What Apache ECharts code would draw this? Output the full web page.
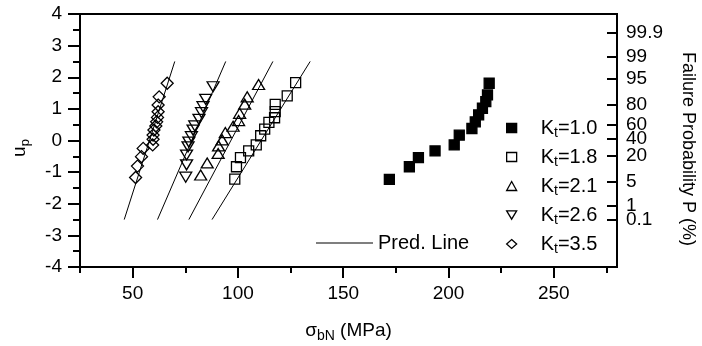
<!DOCTYPE html>
<html><head><meta charset="utf-8">
<script src="https://cdn.jsdelivr.net/npm/echarts@6/dist/echarts.min.js"></script>
<style>html,body{margin:0;padding:0;background:#fff}#c{width:702px;height:346px}</style>
</head><body><div id="c"></div>
<script>
const FONT = 'Liberation Sans, Arial, sans-serif';

// Kt = 1.0 (filled squares)
const kt10X = [171.9, 181.4, 185.7, 193.6, 202.7, 205.1, 211.1, 212.7, 214.3, 216.1, 217.7, 218.5, 219.3];
const kt10U = [-1.23, -0.83, -0.54, -0.33, -0.14, 0.17, 0.38, 0.59, 0.81, 1.02, 1.23, 1.44, 1.81];
// Kt = 1.8 (open squares)
const kt18X = [98.5, 99.3, 101.2, 105.1, 108.7, 110.8, 112.7, 114.7, 117.4, 117.7, 117.7, 123.4, 127.4];
const kt18U = [-1.22, -0.83, -0.54, -0.33, -0.14, 0.15, 0.36, 0.57, 0.72, 0.91, 1.14, 1.41, 1.83];
// Kt = 2.1 (up triangles)
const kt21X = [82.3, 85.4, 90.6, 90.8, 92.5, 94.0, 97.7, 100.3, 100.8, 103.2, 104.4, 109.8];
const kt21U = [-1.09, -0.71, -0.41, -0.17, 0.02, 0.25, 0.45, 0.63, 0.86, 1.15, 1.38, 1.77];
// Kt = 2.6 (down triangles)
const kt26X = [75.2, 75.6, 75.6, 76.3, 76.7, 77.9, 78.7, 79.5, 81.5, 82.7, 83.4, 84.7, 88.2];
const kt26U = [-1.16, -0.77, -0.46, -0.20, -0.05, 0.12, 0.33, 0.46, 0.67, 0.88, 1.07, 1.30, 1.70];
// Kt = 3.5 (diamonds)
const kt35X = [51.4, 52.3, 54.2, 55.0, 59.5, 59.7, 59.7, 60.1, 61.0, 61.4, 61.8, 62.1, 62.1, 62.6, 66.4];
const kt35U = [-1.17, -0.81, -0.51, -0.25, -0.14, 0.04, 0.17, 0.33, 0.46, 0.59, 0.73, 0.91, 1.12, 1.38, 1.81];

// Prediction lines (end points)
const predU = [-2.5, 2.5];
const pred18X = [87.7, 134.3];
const pred21X = [76.7, 116.6];
const pred26X = [61.8, 94.2];
const pred35X = [46.0, 70.0];

// Axis ticks
const xMajorTicks = [50, 100, 150, 200, 250];
const xMinorTicks = [25, 75, 125, 175, 225, 275];
const probLabels = ['0.1', '1', '5', '20', '40', '60', '80', '95', '99', '99.9'];
const probU = [-2.52, -2.06, -1.32, -0.48, 0.05, 0.50, 1.13, 1.94, 2.65, 3.40];

const zip = (xs, us) => xs.map((x, i) => [x, us[i]]);

const chart = echarts.init(document.getElementById('c'), null, {renderer: 'canvas'});
const black = '#000';
const clear = 'rgba(255,255,255,0)';
const DOWN_TRI = 'path://M0,0 L12,0 L6,10 Z';
const scatterBase = (name, xs, us, symbol, size, fill) => ({
  name, type: 'scatter', xAxisIndex: 0, yAxisIndex: 0,
  data: zip(xs, us), symbol, symbolSize: size,
  itemStyle: {color: fill, borderColor: black, borderWidth: 1.3, opacity: 1},
  emphasis: {disabled: true}, z: 3
});
const predLine = (xs) => ({
  name: 'Pred. Line', type: 'line', xAxisIndex: 0, yAxisIndex: 0,
  data: zip(xs, predU), symbol: 'none', showSymbol: false,
  lineStyle: {color: black, width: 1}, itemStyle: {color: black},
  emphasis: {disabled: true}, z: 2
});
const probFormatter = (v) => {
  let best = 0, d = 1e9;
  probU.forEach((u, i) => { if (Math.abs(u - v) < d) { d = Math.abs(u - v); best = i; } });
  return probLabels[best];
};

const subRich = {sub: {fontSize: 13, lineHeight: 13, verticalAlign: 'bottom', fontFamily: FONT, color: black}};
const legIcon = (name, icon, fill) => ({name, icon, itemStyle: {color: fill, borderColor: black, borderWidth: 1.3}});

chart.setOption({
  animation: false,
  backgroundColor: '#fff',
  textStyle: {fontFamily: FONT, color: black},
  grid: {left: 80, right: 85, top: 14, bottom: 79, show: true, borderColor: black, borderWidth: 2,
         backgroundColor: 'transparent', containLabel: false, outerBoundsMode: 'none'},
  xAxis: [{
    type: 'value', min: 25, max: 280, position: 'bottom',
    axisLine: {show: true, onZero: false, lineStyle: {color: black, width: 2}},
    axisTick: {show: true, customValues: xMajorTicks, length: 11, lineStyle: {color: black, width: 2}},
    axisLabel: {show: true, customValues: xMajorTicks, fontSize: 19, color: black, fontFamily: FONT, margin: 17},
    splitLine: {show: false},
    name: 'σ{sub|bN} (MPa)', nameLocation: 'middle', nameGap: 52,
    nameTextStyle: {fontSize: 19, color: black, fontFamily: FONT, lineHeight: 24, rich: {sub: {fontSize: 14, lineHeight: 14, verticalAlign: 'bottom', fontFamily: FONT, color: black}}}
  }, {
    type: 'value', min: 25, max: 280, position: 'bottom', gridIndex: 0,
    axisLine: {show: false, onZero: false},
    axisTick: {show: true, customValues: xMinorTicks, length: 6, lineStyle: {color: black, width: 2}},
    axisLabel: {show: false},
    splitLine: {show: false}
  }],
  yAxis: [{
    type: 'value', min: -4, max: 4, interval: 1, position: 'left',
    axisLine: {show: true, onZero: false, lineStyle: {color: black, width: 2}},
    axisTick: {show: true, length: 12, lineStyle: {color: black, width: 2}},
    minorTick: {show: true, splitNumber: 2, length: 7, lineStyle: {color: black, width: 2}},
    axisLabel: {fontSize: 19, color: black, fontFamily: FONT, margin: 18},
    splitLine: {show: false}, minorSplitLine: {show: false},
    name: 'u{sub|p}', nameLocation: 'middle', nameGap: 48, nameRotate: 90,
    nameTextStyle: {fontSize: 19, color: black, fontFamily: FONT, lineHeight: 24, padding: [0, 15, 0, 0], rich: subRich}
  }, {
    type: 'value', min: -4, max: 4, position: 'right',
    axisLine: {show: true, onZero: false, lineStyle: {color: black, width: 2}},
    axisTick: {show: true, inside: true, length: 10, customValues: probU, lineStyle: {color: black, width: 2}},
    axisLabel: {show: true, customValues: probU.slice(1), fontSize: 19, color: black, fontFamily: FONT, margin: 9,
      showMinLabel: true, showMaxLabel: true, hideOverlap: false, formatter: probFormatter},
    splitLine: {show: false},
    name: 'Failure Probability P (%)', nameLocation: 'middle', nameGap: 62, nameRotate: -90,
    nameTextStyle: {fontSize: 18, color: black, fontFamily: FONT, padding: [0, 0, 0, 17]}
  }, {
    type: 'value', min: -4, max: 4, position: 'right',
    axisLine: {show: false, onZero: false},
    axisTick: {show: false},
    axisLabel: {show: true, customValues: probU.slice(0, 1), fontSize: 19, color: black, fontFamily: FONT, margin: 9,
      showMinLabel: true, showMaxLabel: true, formatter: probFormatter},
    splitLine: {show: false}
  }],
  legend: [{
    data: [{name: 'Pred. Line', icon: 'rect', itemStyle: {color: black, borderWidth: 0}}],
    left: 316, top: 233, padding: 0, itemWidth: 57, itemHeight: 1,
    textStyle: {fontSize: 20, color: black, fontFamily: FONT}, selectedMode: false
  }, {
    data: [legIcon('Kt=1.0', 'rect', black), legIcon('Kt=1.8', 'rect', clear),
           legIcon('Kt=2.1', 'triangle', clear), legIcon('Kt=2.6', DOWN_TRI, clear),
           legIcon('Kt=3.5', 'diamond', clear)],
    orient: 'vertical', left: 506, top: 116, padding: 0, itemWidth: 10, itemHeight: 9, itemGap: 5,
    selectedMode: false,
    formatter: (name) => '{g| }K{sub|t}=' + name.slice(3),
    textStyle: {fontSize: 20, color: black, fontFamily: FONT, lineHeight: 24,
      rich: {g: {width: 19}, sub: {fontSize: 14, lineHeight: 14, verticalAlign: 'bottom', fontFamily: FONT, color: black}}}
  }],
  series: [
    predLine(pred18X), predLine(pred21X), predLine(pred26X), predLine(pred35X),
    scatterBase('Kt=1.0', kt10X, kt10U, 'rect', 10, black),
    scatterBase('Kt=1.8', kt18X, kt18U, 'rect', 10, clear),
    scatterBase('Kt=2.1', kt21X, kt21U, 'triangle', [12, 10], clear),
    scatterBase('Kt=2.6', kt26X, kt26U, DOWN_TRI, [12, 10], clear),
    scatterBase('Kt=3.5', kt35X, kt35U, 'diamond', 12, clear)
  ]
});
</script></body></html>
